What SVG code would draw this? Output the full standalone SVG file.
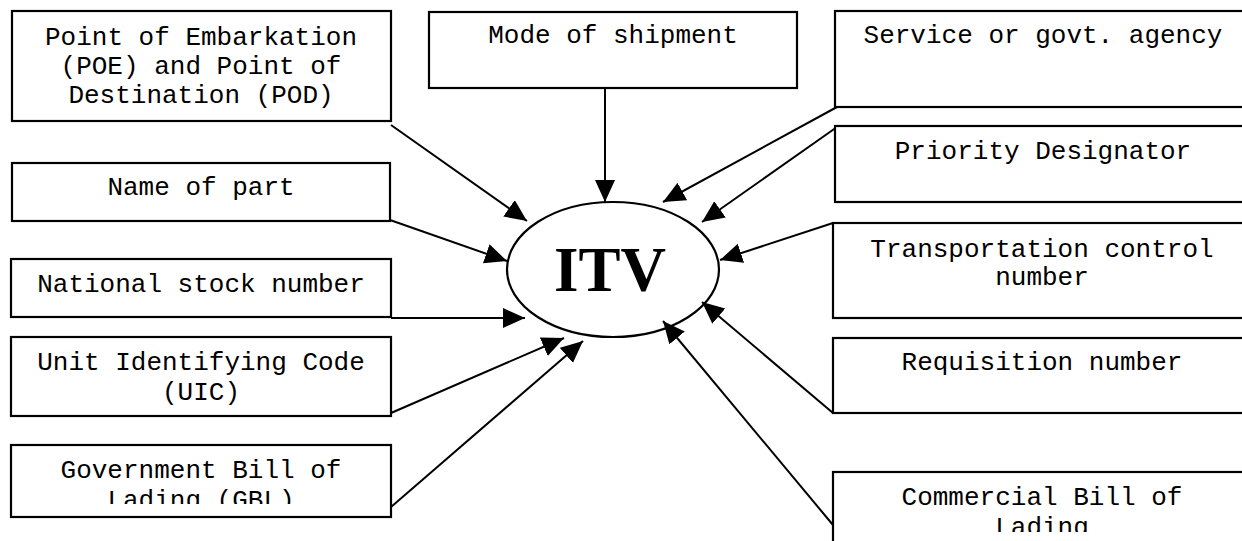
<svg xmlns="http://www.w3.org/2000/svg" width="1242" height="541" viewBox="0 0 1242 541">
<style>
.box{fill:#fff;stroke:#000;stroke-width:2.2}
.t{font-family:"Liberation Mono","Courier New",monospace;font-size:26px;fill:#000;text-anchor:middle}
.c{stroke:#000;stroke-width:2;fill:none;marker-end:url(#ah)}
</style>
<defs>
<marker id="ah" markerUnits="userSpaceOnUse" markerWidth="24" markerHeight="22" refX="22" refY="10" orient="auto">
<path d="M0,0 L22,10 L0,20 Z" fill="#000"/>
</marker>
<clipPath id="clipG"><rect x="0" y="0" width="1242" height="504"/></clipPath>
<clipPath id="clipC"><rect x="0" y="0" width="1242" height="532"/></clipPath>
</defs>
<rect width="1242" height="541" fill="#fff"/>
<g id="connectors">
<line class="c" x1="391" y1="125" x2="527" y2="221"/>
<line class="c" x1="390" y1="220" x2="507" y2="261"/>
<line class="c" x1="391" y1="318" x2="525" y2="318"/>
<line class="c" x1="391" y1="413" x2="564" y2="338"/>
<line class="c" x1="391" y1="507" x2="583" y2="341"/>
<line class="c" x1="605" y1="88" x2="605" y2="202"/>
<line class="c" x1="837" y1="107" x2="663" y2="202"/>
<line class="c" x1="837" y1="127" x2="702" y2="222"/>
<line class="c" x1="833" y1="223" x2="720" y2="260"/>
<line class="c" x1="833" y1="413" x2="702" y2="302"/>
<line class="c" x1="833" y1="525" x2="663" y2="321"/>
</g>
<g id="itv">
<ellipse cx="613" cy="269.5" rx="106" ry="67.5" fill="none" stroke="#000" stroke-width="2.2"/>
<text x="610" y="291" font-family="'Liberation Serif','Times New Roman',serif" font-weight="bold" font-size="63" text-anchor="middle">ITV</text>
</g>
<g id="poe">
<rect class="box" x="12" y="11" width="379" height="110"/>
<text class="t" x="201" y="45">Point of Embarkation</text>
<text class="t" x="201" y="74">(POE) and Point of</text>
<text class="t" x="201" y="103">Destination (POD)</text>
</g>
<g id="mode">
<rect class="box" x="429" y="12" width="368" height="76"/>
<text class="t" x="613" y="43">Mode of shipment</text>
</g>
<g id="name">
<rect class="box" x="12" y="163" width="378" height="58"/>
<text class="t" x="201" y="195">Name of part</text>
</g>
<g id="nsn">
<rect class="box" x="11" y="259" width="380" height="58"/>
<text class="t" x="201" y="292">National stock number</text>
</g>
<g id="uic">
<rect class="box" x="11" y="337" width="380" height="79"/>
<text class="t" x="201" y="370">Unit Identifying Code</text>
<text class="t" x="201" y="400">(UIC)</text>
</g>
<g id="gbl">
<rect class="box" x="11" y="445" width="380" height="72"/>
<text class="t" x="201" y="478">Government Bill of</text>
<text class="t" x="201" y="508" clip-path="url(#clipG)">Lading (GBL)</text>
</g>
<g id="service">
<rect class="box" x="835" y="11" width="420" height="96"/>
<text class="t" x="1043" y="43">Service or govt. agency</text>
</g>
<g id="priority">
<rect class="box" x="835" y="126" width="420" height="76"/>
<text class="t" x="1043" y="159">Priority Designator</text>
</g>
<g id="tcn">
<rect class="box" x="833" y="223" width="420" height="95"/>
<text class="t" x="1042" y="257">Transportation control</text>
<text class="t" x="1042" y="285">number</text>
</g>
<g id="req">
<rect class="box" x="833" y="338" width="420" height="75"/>
<text class="t" x="1042" y="370">Requisition number</text>
</g>
<g id="cbl">
<rect class="box" x="833" y="472" width="420" height="100"/>
<text class="t" x="1042" y="505">Commercial Bill of</text>
<text class="t" x="1042" y="535" clip-path="url(#clipC)">Lading</text>
</g>
</svg>
